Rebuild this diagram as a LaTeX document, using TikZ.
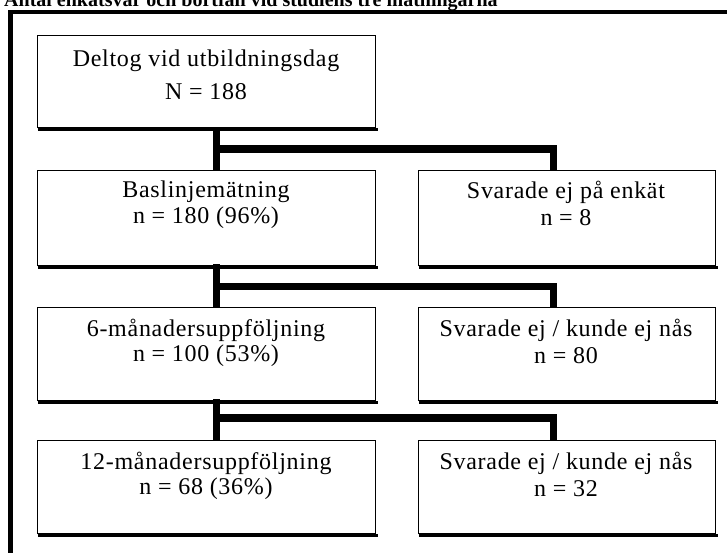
\documentclass[tikz,border=0pt]{standalone}
\usepackage{fontspec}
\setmainfont{Liberation Serif}
\begin{document}
\begin{tikzpicture}[x=1pt,y=-1pt,
  box/.style={draw, line width=1.4pt, anchor=north west, inner sep=0pt, minimum width=#1},
  lbox/.style={box=338pt},
  rbox/.style={box=297pt},
  txt/.style={inner sep=0pt, font=\addfontfeatures{LetterSpace=3}\fontsize{24}{28}\selectfont},
  conn/.style={line width=7.5pt, miter limit=10},
  frame/.style={line width=4.5pt},
  shade/.style={line width=3.5pt}]
\useasboundingbox (0,0) rectangle (727,552);
\clip (0,0) rectangle (727,552);
% cut-off title
\node[inner sep=0pt, anchor=base west, font=\bfseries\fontsize{20}{22}\selectfont] (title) at (4,6)
  {Antal enkätsvar och bortfall vid studiens tre mätningarna};
% outer frame
\coordinate (fa) at (10.5,560);
\coordinate (fb) at (10.5,12);
\coordinate (fc) at (740,12);
\draw[frame] (fa) -- (fb) -- (fc);
% boxes
\node[lbox, minimum height=92pt] (b1) at (37,35) {};
\node[lbox, minimum height=95pt] (b2) at (37,170) {};
\node[rbox, minimum height=95pt] (r2) at (418,170) {};
\node[lbox, minimum height=93pt] (b3) at (37,307) {};
\node[rbox, minimum height=93pt] (r3) at (418,307) {};
\node[lbox, minimum height=93pt] (b4) at (37,440) {};
\node[rbox, minimum height=93pt] (r4) at (418,440) {};
% bottom shadows
\foreach \b in {b1,b2,r2,b3,r3,b4,r4}{
  \draw[shade] ([xshift=0.5pt,yshift=-1pt]\b.south west) -- ([xshift=2pt,yshift=-1pt]\b.south east);
}
% texts
\node[txt] (t1a) at (206,61) {Deltog vid utbildningsdag};
\node[txt] (t1b) at (206,92) {N = 188};
\node[txt] (t2a) at (206,192) {Baslinjemätning};
\node[txt] (t2b) at (206,218) {n = 180 (96\%)};
\node[txt] (u2a) at (566,192) {Svarade ej på enkät};
\node[txt] (u2b) at (566,218) {n = 8};
\node[txt] (t3a) at (206,330) {6-månadersuppföljning};
\node[txt] (t3b) at (206,356) {n = 100 (53\%)};
\node[txt] (u3a) at (566,330) {Svarade ej / kunde ej nås};
\node[txt] (u3b) at (566,356) {n = 80};
\node[txt] (t4a) at (206,463) {12-månadersuppföljning};
\node[txt] (t4b) at (206,489) {n = 68 (36\%)};
\node[txt] (u4a) at (566,463) {Svarade ej / kunde ej nås};
\node[txt] (u4b) at (566,489) {n = 32};
% connectors
\coordinate (j1) at (216.5,149);
\coordinate (k1) at (553.5,149);
\coordinate (j2) at (216.5,286.5);
\coordinate (k2) at (553.5,286.5);
\coordinate (j3) at (216.5,418);
\coordinate (k3) at (553.5,418);
\draw[conn] (b1.south -| j1) -- (b2.north -| j1);
\draw[conn] (j1) -- (k1) -- (r2.north -| k1);
\draw[conn] ([yshift=2pt]b2.south -| j2) -- (b3.north -| j2);
\draw[conn] (j2) -- (k2) -- (r3.north -| k2);
\draw[conn] ([yshift=2pt]b3.south -| j3) -- (b4.north -| j3);
\draw[conn] (j3) -- (k3) -- (r4.north -| k3);
\end{tikzpicture}
\end{document}
